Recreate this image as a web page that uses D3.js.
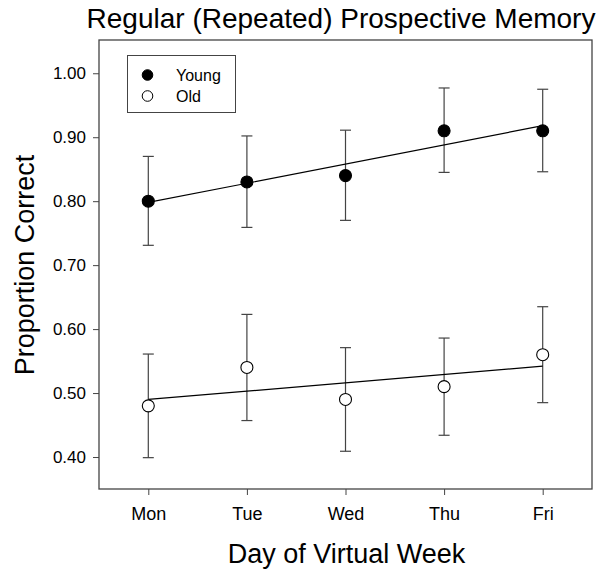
<!DOCTYPE html>
<html><head><meta charset="utf-8">
<script src="https://cdn.jsdelivr.net/npm/d3@7"></script>
<style>body{margin:0;background:#fff;} svg{display:block;}</style>
</head><body>
<svg id="chart" width="600" height="573"></svg>
<script>
const days = ["Mon", "Tue", "Wed", "Thu", "Fri"];
const yTicks = [0.40, 0.50, 0.60, 0.70, 0.80, 0.90, 1.00];
const youngMean = [0.80, 0.83, 0.84, 0.91, 0.91];
const youngLow  = [0.731, 0.759, 0.770, 0.845, 0.846];
const youngHigh = [0.870, 0.902, 0.911, 0.977, 0.975];
const oldMean = [0.48, 0.54, 0.49, 0.51, 0.56];
const oldLow  = [0.399, 0.457, 0.409, 0.434, 0.485];
const oldHigh = [0.561, 0.623, 0.571, 0.586, 0.635];
const seriesNames = ["Young", "Old"];

const svg = d3.select("#chart");
const L = 99, R = 592, T = 40, B = 489;
const font = "Liberation Sans, Arial, sans-serif";

const x = d3.scaleLinear().domain([0.5, 5.5]).range([L, R]);
const y = d3.scaleLinear().domain([0.35, 1.052]).range([B, T]);

// frame
svg.append("rect").attr("x", L).attr("y", T).attr("width", R - L).attr("height", B - T)
  .attr("fill", "none").attr("stroke", "#444").attr("stroke-width", 1.3);

// axes
const yAxis = d3.axisLeft(y).tickValues(yTicks).tickFormat(d3.format(".2f")).tickSize(6).tickPadding(7);
const gy = svg.append("g").attr("transform", `translate(${L},0)`).call(yAxis);
gy.select(".domain").remove();
gy.selectAll("line").attr("stroke", "#444");
gy.selectAll("text").attr("font-family", font).attr("font-size", 17).attr("fill", "#000");

const xAxis = d3.axisBottom(x).tickValues([1, 2, 3, 4, 5]).tickFormat((d, i) => days[i]).tickSize(6).tickPadding(12);
const gx = svg.append("g").attr("transform", `translate(0,${B})`).call(xAxis);
gx.select(".domain").remove();
gx.selectAll("line").attr("stroke", "#444");
gx.selectAll("text").attr("font-family", font).attr("font-size", 18).attr("fill", "#000");

// titles
svg.append("text").attr("x", 341).attr("y", 28).attr("text-anchor", "middle")
  .attr("font-family", font).attr("font-size", 28).text("Regular (Repeated) Prospective Memory");
svg.append("text").attr("x", 346.5).attr("y", 563).attr("text-anchor", "middle")
  .attr("font-family", font).attr("font-size", 27).text("Day of Virtual Week");
svg.append("text").attr("transform", `translate(34,265) rotate(-90)`).attr("text-anchor", "middle")
  .attr("font-family", font).attr("font-size", 27).text("Proportion Correct");

function fit(vals) {
  const xs = vals.map((v, i) => i + 1);
  const mx = d3.mean(xs), my = d3.mean(vals);
  const sxy = d3.sum(xs, (xi, i) => (xi - mx) * (vals[i] - my));
  const sxx = d3.sum(xs, xi => (xi - mx) ** 2);
  const b = sxy / sxx, a = my - b * mx;
  return [[1, a + b], [5, a + 5 * b]];
}

const series = [
  {mean: youngMean, low: youngLow, high: youngHigh, fill: "#000"},
  {mean: oldMean, low: oldLow, high: oldHigh, fill: "#fff"}
];
const line = d3.line().x(d => x(d[0])).y(d => y(d[1]));

series.forEach(s => {
  const g = svg.append("g");
  const idx = s.mean.map((v, i) => i);
  // error bars
  g.selectAll(".eb").data(idx).join("line")
    .attr("x1", i => x(i + 1)).attr("x2", i => x(i + 1))
    .attr("y1", i => y(s.low[i])).attr("y2", i => y(s.high[i]))
    .attr("stroke", "#444").attr("stroke-width", 1.2);
  [s.low, s.high].forEach(arr => {
    g.selectAll(null).data(idx).join("line")
      .attr("x1", i => x(i + 1) - 5.5).attr("x2", i => x(i + 1) + 5.5)
      .attr("y1", i => y(arr[i])).attr("y2", i => y(arr[i]))
      .attr("stroke", "#444").attr("stroke-width", 1.2);
  });
  // fit line
  g.append("path").attr("d", line(fit(s.mean))).attr("fill", "none").attr("stroke", "#000").attr("stroke-width", 1.2);
  // points
  g.selectAll("circle").data(idx).join("circle")
    .attr("cx", i => x(i + 1)).attr("cy", i => y(s.mean[i])).attr("r", 6)
    .attr("fill", s.fill).attr("stroke", "#000").attr("stroke-width", 1.1);
});

// legend
const lg = svg.append("g");
lg.append("rect").attr("x", 127.5).attr("y", 55.5).attr("width", 108).attr("height", 57)
  .attr("fill", "#fff").attr("stroke", "#444").attr("stroke-width", 1);
seriesNames.forEach((n, i) => {
  const cy = 75 + i * 21;
  lg.append("circle").attr("cx", 147.5).attr("cy", cy).attr("r", 5.3)
    .attr("fill", series[i].fill).attr("stroke", "#000").attr("stroke-width", 1);
  lg.append("text").attr("x", 176).attr("y", cy + 6).attr("font-family", font).attr("font-size", 16).text(n);
});
</script>
</body></html>
